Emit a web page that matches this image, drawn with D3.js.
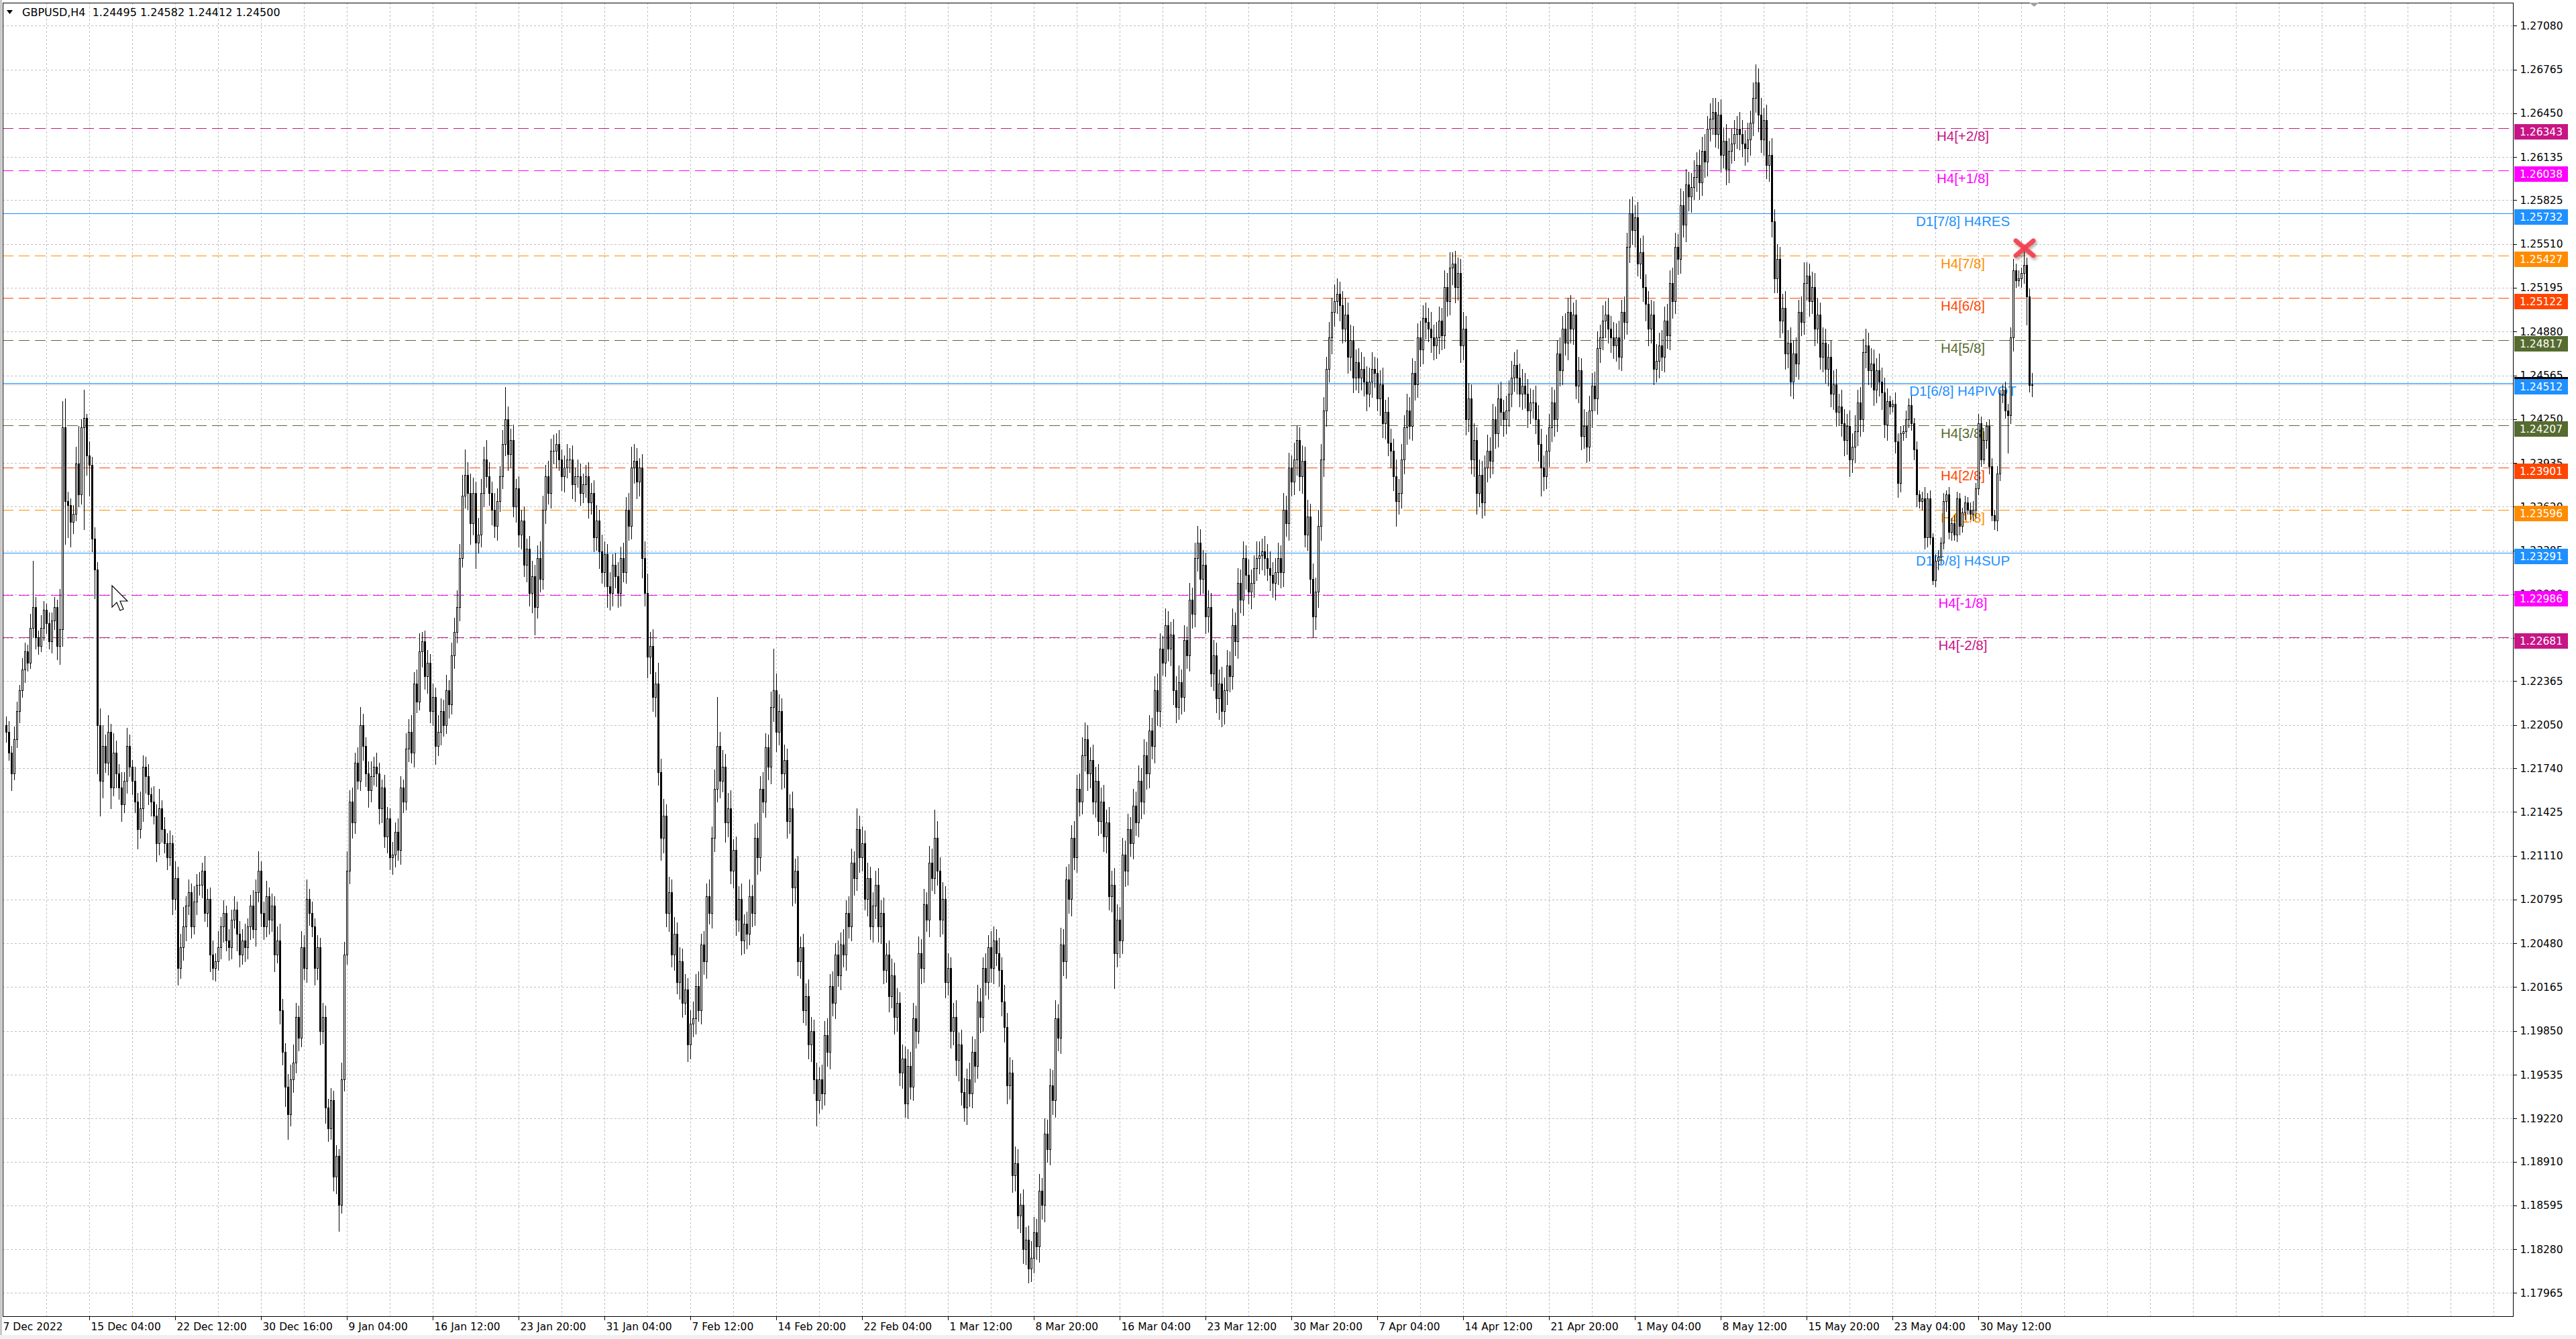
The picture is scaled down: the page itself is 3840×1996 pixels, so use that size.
<!DOCTYPE html>
<html><head><meta charset="utf-8">
<script src="https://cdn.jsdelivr.net/npm/d3@7"></script>
<style>html,body{margin:0;padding:0;background:#fff;overflow:hidden}</style>
</head><body>
<svg id="c" width="3840" height="1996" xmlns="http://www.w3.org/2000/svg"></svg>
<script>
// ---------------- DATA ----------------
const symbol = "GBPUSD,H4";
const firstOpen = 1.2205;
const closes = [
1.2200,1.2185,1.2170,1.2195,1.2215,1.2230,
1.2245,1.2258,1.2250,1.2275,1.2290,1.2268,
1.2262,1.2275,1.2288,1.2278,1.2265,1.2280,
1.2290,1.2262,1.2274,1.2419,1.2366,1.2363,
1.2351,1.2357,1.2393,1.2371,1.2419,1.2426,
1.2399,1.2392,1.2339,1.2317,1.2205,1.2165,
1.2190,1.2178,1.2200,1.2160,1.2185,1.2170,
1.2160,1.2148,1.2165,1.2190,1.2175,1.2165,
1.2150,1.2130,1.2145,1.2175,1.2168,1.2155,
1.2150,1.2140,1.2120,1.2145,1.2130,1.2120,
1.2110,1.2120,1.2080,1.2095,1.2030,1.2045,
1.2060,1.2075,1.2085,1.2060,1.2078,1.2090,
1.2090,1.2100,1.2070,1.2080,1.2040,1.2030,
1.2035,1.2045,1.2060,1.2070,1.2050,1.2045,
1.2065,1.2072,1.2055,1.2040,1.2050,1.2045,
1.2060,1.2075,1.2058,1.2085,1.2100,1.2070,
1.2060,1.2082,1.2065,1.2075,1.2040,1.2050,
1.2000,1.1970,1.1945,1.1925,1.1950,1.1962,
1.1995,1.1980,1.2045,1.2030,1.2080,1.2070,
1.2060,1.2030,1.2045,1.1985,1.1995,1.1930,
1.1915,1.1935,1.1880,1.1895,1.1860,1.1950,
1.2040,1.2100,1.2150,1.2135,1.2178,1.2165,
1.2205,1.2190,1.2170,1.2158,1.2168,1.2175,
1.2170,1.2145,1.2160,1.2125,1.2138,1.2110,
1.2112,1.2128,1.2115,1.2160,1.2150,1.2188,
1.2200,1.2185,1.2235,1.2222,1.2258,1.2265,
1.2240,1.2250,1.2215,1.2225,1.2190,1.2200,
1.2215,1.2205,1.2230,1.2220,1.2255,1.2272,
1.2290,1.2325,1.2370,1.2385,1.2372,1.2350,
1.2372,1.2336,1.2342,1.2372,1.2396,1.2384,
1.2372,1.2360,1.2348,1.2366,1.2384,1.2407,
1.2425,1.2400,1.2410,1.2362,1.2375,1.2342,
1.2352,1.2320,1.2332,1.2300,1.2312,1.2290,
1.2325,1.2310,1.2360,1.2384,1.2372,1.2402,
1.2402,1.2407,1.2396,1.2384,1.2390,1.2396,
1.2396,1.2378,1.2384,1.2384,1.2372,1.2378,
1.2384,1.2365,1.2372,1.2340,1.2352,1.2330,
1.2315,1.2328,1.2305,1.2300,1.2320,1.2312,
1.2300,1.2325,1.2315,1.2360,1.2348,1.2390,
1.2395,1.2380,1.2390,1.2325,1.2300,1.2254,
1.2262,1.2225,1.2235,1.2171,1.2124,1.2140,
1.2070,1.2085,1.2040,1.2055,1.2020,1.2035,
1.2005,1.2015,1.1975,1.1990,1.1994,1.2017,
1.2000,1.2047,1.2035,1.2082,1.2070,1.2124,
1.2159,1.2190,1.2165,1.2175,1.2135,1.2145,
1.2100,1.2115,1.2065,1.2080,1.2050,1.2062,
1.2055,1.2082,1.2070,1.2124,1.2110,1.2159,
1.2150,1.2189,1.2175,1.2218,1.2230,1.2200,
1.2215,1.2170,1.2180,1.2136,1.2145,1.2088,
1.2100,1.2035,1.2045,1.2000,1.2010,1.1975,
1.1985,1.1950,1.1935,1.1950,1.1940,1.1982,
1.1970,1.2017,1.2005,1.2040,1.2025,1.2047,
1.2040,1.2070,1.2060,1.2106,1.2095,1.2130,
1.2110,1.2120,1.2080,1.2095,1.2060,1.2075,
1.2090,1.2060,1.2070,1.2029,1.2040,1.2010,
1.2025,1.1995,1.2005,1.1955,1.1965,1.1933,
1.1960,1.1945,1.1994,1.1985,1.2041,1.2030,
1.2076,1.2065,1.2106,1.2095,1.2124,1.2100,
1.2065,1.2080,1.2020,1.2030,1.1985,1.1995,
1.1964,1.1975,1.1941,1.1930,1.1950,1.1940,
1.1970,1.1960,1.2006,1.1995,1.2030,1.2020,
1.2045,1.2030,1.2050,1.2041,1.2029,1.2006,
1.1988,1.1946,1.1955,1.1881,1.1890,1.1852,
1.1860,1.1828,1.1835,1.1814,1.1822,1.1840,
1.1830,1.1870,1.1860,1.1911,1.1900,1.1946,
1.1935,1.1994,1.1980,1.2047,1.2035,1.2094,
1.2080,1.2124,1.2110,1.2159,1.2150,1.2183,
1.2195,1.2170,1.2180,1.2150,1.2165,1.2136,
1.2150,1.2125,1.2135,1.2082,1.2090,1.2041,
1.2065,1.2050,1.2112,1.2100,1.2130,1.2120,
1.2147,1.2135,1.2165,1.2150,1.2183,1.2170,
1.2201,1.2190,1.2230,1.2215,1.2260,1.2250,
1.2277,1.2260,1.2270,1.2230,1.2218,1.2236,
1.2225,1.2266,1.2255,1.2295,1.2285,1.2325,
1.2336,1.2310,1.2320,1.2283,1.2290,1.2242,
1.2255,1.2224,1.2235,1.2215,1.2230,1.2248,
1.2240,1.2277,1.2265,1.2307,1.2295,1.2325,
1.2313,1.2301,1.2307,1.2318,1.2325,1.2327,
1.2330,1.2325,1.2318,1.2313,1.2307,1.2315,
1.2325,1.2315,1.2360,1.2350,1.2390,1.2380,
1.2396,1.2410,1.2384,1.2395,1.2342,1.2355,
1.2310,1.2283,1.2301,1.2348,1.2396,1.2431,
1.2461,1.2484,1.2502,1.2510,1.2515,1.2507,
1.2490,1.2500,1.2470,1.2482,1.2455,1.2466,
1.2455,1.2461,1.2452,1.2443,1.2452,1.2461,
1.2458,1.2440,1.2450,1.2422,1.2430,1.2408,
1.2402,1.2384,1.2366,1.2372,1.2396,1.2419,
1.2431,1.2420,1.2458,1.2450,1.2484,1.2475,
1.2498,1.2495,1.2490,1.2484,1.2478,1.2484,
1.2496,1.2485,1.2520,1.2510,1.2534,1.2537,
1.2520,1.2530,1.2478,1.2490,1.2425,1.2440,
1.2396,1.2410,1.2372,1.2385,1.2365,1.2390,
1.2402,1.2395,1.2425,1.2415,1.2440,1.2430,
1.2425,1.2431,1.2443,1.2455,1.2464,1.2455,
1.2443,1.2449,1.2443,1.2431,1.2437,1.2437,
1.2425,1.2407,1.2390,1.2384,1.2402,1.2419,
1.2437,1.2425,1.2472,1.2460,1.2490,1.2480,
1.2502,1.2490,1.2500,1.2449,1.2460,1.2413,
1.2420,1.2405,1.2431,1.2449,1.2440,1.2476,
1.2484,1.2496,1.2500,1.2490,1.2484,1.2478,
1.2484,1.2470,1.2502,1.2495,1.2549,1.2573,
1.2561,1.2570,1.2537,1.2545,1.2520,1.2508,
1.2490,1.2500,1.2461,1.2467,1.2478,1.2470,
1.2496,1.2485,1.2523,1.2510,1.2549,1.2540,
1.2579,1.2565,1.2594,1.2585,1.2592,1.2599,
1.2608,1.2595,1.2618,1.2610,1.2634,1.2641,
1.2646,1.2630,1.2644,1.2615,1.2625,1.2605,
1.2618,1.2623,1.2630,1.2634,1.2630,1.2623,
1.2620,1.2626,1.2638,1.2656,1.2667,1.2644,
1.2626,1.2640,1.2608,1.2615,1.2567,1.2526,
1.2540,1.2496,1.2505,1.2472,1.2480,1.2452,
1.2472,1.2465,1.2502,1.2495,1.2523,1.2528,
1.2510,1.2520,1.2490,1.2500,1.2470,1.2480,
1.2461,1.2470,1.2443,1.2450,1.2430,1.2434,
1.2422,1.2410,1.2420,1.2396,1.2405,1.2416,
1.2437,1.2425,1.2473,1.2478,1.2460,1.2465,
1.2446,1.2460,1.2452,1.2444,1.2421,1.2438,
1.2434,1.2436,1.2409,1.2379,1.2415,1.2416,
1.2425,1.2435,1.2422,1.2403,1.2371,1.2366,
1.2368,1.2340,1.2368,1.2340,1.2309,1.2323,
1.2326,1.2336,1.2366,1.2371,1.2344,1.2350,
1.2342,1.2368,1.2348,1.2358,1.2365,1.2360,
1.2357,1.2360,1.2375,1.2422,1.2396,1.2410,
1.2420,1.2391,1.2356,1.2352,1.2386,1.2443,
1.2446,1.2431,1.2428,1.2484,1.2532,1.2525,
1.2526,1.2530,1.2536,1.2513,1.24495,1.24500
];
const upperWickPips = [
6,8,5,9,7,4,8,6,5,10,33,7, 5,9,6,4,8,6,7,5,29,19,21,7, 5,6,12,27,6,20,3,10,6,8,5,12,
15,8,12,6,14,9,7,11,6,13,8,5, 10,6,12,8,7,9,5,11,8,14,6,9, 7,9,6,12,8,10,14,7,9,6,11,8,
9,6,11,7,8,10,6,12,7,9,5,8, 7,10,6,9,8,12,6,8,11,9,14,7, 8,11,6,9,7,10,12,8,6,9,11,13,
10,8,12,9,14,7,8,6,9,7,10,8, 6,9,7,8,5,12,9,14,8,10,7,11, 13,8,6,9,11,7,10,8,6,9,8,7,
9,7,10,8,6,11,9,12,8,10,13,7, 8,9,6,10,7,12,9,8,11,7,9,10, 12,10,15,18,9,14,11,8,12,10,9,14,
10,8,12,9,7,10,23,9,8,11,7,9, 8,10,7,9,11,8,9,12,10,8,11,9, 12,8,10,7,9,11,8,10,6,12,9,8,
8,10,7,9,11,8,12,9,7,10,8,9, 10,8,11,9,12,15,12,9,7,10,12,14, 10,12,8,15,10,12,8,11,9,12,8,10,
9,11,8,10,12,9,11,8,10,9,12,8, 14,35,10,12,9,11,13,8,10,9,11,7, 9,12,8,10,11,9,12,10,9,11,30,12,
12,9,11,8,10,12,9,11,8,10,9,12, 10,8,12,9,11,10,12,9,11,8,10,9, 11,9,12,10,8,15,10,12,9,11,8,10,
10,12,9,11,8,10,12,9,11,8,10,9, 12,10,11,9,12,10,11,9,12,10,20,12, 10,12,9,11,8,10,12,9,11,10,8,12,
11,9,12,10,8,11,9,12,10,8,11,9, 12,10,11,9,12,10,8,11,9,10,12,11, 10,12,9,11,10,12,11,13,10,12,11,9,
11,9,12,10,11,13,12,10,9,11,10,12, 10,12,9,11,10,12,11,9,12,10,11,9, 12,10,11,9,12,10,11,9,10,12,11,9,
12,10,9,11,10,12,9,11,10,12,9,11, 12,10,11,9,12,10,11,9,10,12,9,11, 10,12,9,11,10,12,9,11,10,9,12,10,
9,11,10,12,9,10,11,9,12,10,11,9, 12,10,9,11,10,12,9,11,10,12,11,10, 9,11,10,12,11,9,10,12,9,11,10,9,
10,12,9,11,10,12,9,11,10,12,9,11, 10,9,12,10,11,9,12,10,11,9,10,12, 9,11,10,12,9,11,10,9,12,10,11,8,
9,11,10,12,9,11,10,12,9,11,10,9, 12,10,11,9,10,12,9,11,10,12,9,11, 10,12,9,11,10,9,12,10,11,9,12,10,
11,9,10,12,9,11,10,12,9,11,10,9, 12,10,11,9,10,12,9,11,10,12,9,11, 10,12,9,11,10,10,12,9,11,10,12,9,
9,11,10,12,9,11,10,12,9,11,10,9, 12,10,11,9,10,12,9,11,10,12,9,11, 10,10,9,11,10,12,9,11,10,9,12,10,
10,12,9,11,13,10,12,9,11,10,12,9, 11,9,10,12,9,11,10,12,9,11,15,10, 9,11,10,12,9,11,10,9,12,10,11,9,
12,10,9,11,10,12,9,11,10,12,9,11, 10,9,12,10,11,9,4,3,8,6,5,4, 6,5,7,4,6,3,5,8,4,6,3,5,
5,4,6,3,5,4,6,5,4,3,5,4, 5,6,4,7,5,6,3,5,6,4,5,3, 4,6,5,7,8,5,6,4,10,5,6,8.2
];
const lowerWickPips = [
7,5,12,4,6,8,5,9,6,4,7,8, 6,4,9,7,5,8,6,10,13,12,31,23, 18,8,5,9,7,73,14,22,9,21,35,25,
12,7,9,15,6,10,8,12,6,9,7,10, 8,14,6,9,12,7,10,6,13,8,9,7, 9,6,11,8,12,7,9,10,6,8,5,9,
7,9,6,10,12,8,9,6,8,11,7,9, 8,6,12,9,7,10,8,9,6,12,7,10, 9,7,10,8,12,6,10,9,14,18,8,9,
7,9,6,8,10,9,7,12,8,10,9,11, 9,8,10,12,19,6,8,7,9,11,8,6, 7,10,9,12,8,6,9,11,10,8,12,9,
12,9,7,10,8,6,9,7,10,8,6,11, 9,12,8,10,13,7,9,8,6,10,7,9, 8,10,6,9,12,15,8,18,7,9,10,8,
9,11,8,10,7,9,8,12,10,7,11,9, 10,8,12,9,14,20,8,9,7,10,8,11, 9,12,8,10,11,7,9,10,12,8,9,7,
9,11,8,10,9,12,8,10,15,12,9,8, 10,9,7,8,10,9,11,12,10,14,9,15, 12,10,14,9,16,11,10,13,9,11,8,12,
10,8,12,10,9,11,8,10,9,12,8,11, 10,9,12,8,14,10,9,12,11,8,10,9, 11,8,10,9,12,10,8,11,9,12,10,14,
9,11,10,12,9,13,11,10,12,9,11,10, 12,10,18,9,11,8,10,12,9,11,8,10, 9,11,8,10,12,9,11,10,8,12,9,11,
9,11,12,10,9,11,8,12,10,9,11,10, 11,9,10,12,9,11,10,8,12,9,11,10, 12,10,11,9,12,10,11,15,9,10,12,9,
10,12,9,11,10,9,12,10,11,9,12,10, 11,13,10,12,11,9,12,10,11,10,9,11, 9,11,10,12,9,11,10,12,9,11,10,12,
10,12,9,11,10,9,11,12,10,9,11,10, 9,11,12,10,11,25,10,12,9,11,10,9, 11,9,10,12,9,11,10,9,12,10,11,9,
10,9,12,10,11,9,12,10,9,11,10,9, 9,11,10,12,11,9,12,10,15,11,9,10, 11,9,10,12,9,11,10,9,12,10,9,11,
10,12,9,11,10,12,9,11,10,9,12,10, 9,11,10,12,9,11,10,15,9,11,10,12, 11,9,12,10,9,11,10,9,12,10,11,9,
11,9,10,12,9,11,10,9,12,10,11,9, 12,10,18,9,11,10,12,9,10,11,9,12, 10,12,9,11,10,9,12,10,9,11,10,12,
11,9,12,10,11,9,10,12,15,10,11,9, 10,12,9,11,10,9,12,10,11,9,10,12, 9,11,10,12,9,11,10,12,20,10,9,11,
10,12,9,11,10,9,12,10,11,9,12,10, 9,11,10,12,9,11,10,9,12,10,11,9, 11,9,10,12,9,11,10,12,9,11,10,12,
12,10,11,9,12,10,11,9,10,12,9,11, 10,9,12,10,11,9,10,12,9,11,10,9, 11,9,10,12,9,11,10,9,12,10,11,9,
12,10,11,9,10,12,9,11,10,12,11,10, 10,12,9,11,10,10,12,9,11,10,9,12, 11,9,12,10,9,11,10,12,9,11,10,9,
9,11,10,12,9,11,10,12,9,11,10,12, 11,9,10,12,9,11,5,4,8,10,6,5, 4,6,5,7,9,5,6,8,7,5,3,4,
6,5,4,7,5,6,4,5,6,4,5,3, 4,5,6,4,5,3,6,5,4,6,7,5, 6,5,27,6,10,5,4,6,7,20,5,8.3
];
const priceTicks = [1.27080,1.26765,1.26450,1.26135,1.25825,1.25510,1.25195,1.24880,1.24565,1.24250,
 1.23935,1.23620,1.23305,1.22990,1.22675,1.22365,1.22050,1.21740,1.21425,1.21110,
 1.20795,1.20480,1.20165,1.19850,1.19535,1.19220,1.18910,1.18595,1.18280,1.17965];
const timeLabels = ["7 Dec 2022","15 Dec 04:00","22 Dec 12:00","30 Dec 16:00","9 Jan 04:00","16 Jan 12:00",
 "23 Jan 20:00","31 Jan 04:00","7 Feb 12:00","14 Feb 20:00","22 Feb 04:00","1 Mar 12:00","8 Mar 20:00",
 "16 Mar 04:00","23 Mar 12:00","30 Mar 20:00","7 Apr 04:00","14 Apr 12:00","21 Apr 20:00","1 May 04:00",
 "8 May 12:00","15 May 20:00","23 May 04:00","30 May 12:00"];
const timeLabelBars = [0,31,63,95,127,159,191,223,255,287,319,351,383,415,447,479,511,543,575,607,639,671,703,735];
const levelNames = ["H4[+2/8]","H4[+1/8]","D1[7/8] H4RES","H4[7/8]","H4[6/8]","H4[5/8]","D1[6/8] H4PIVOT",
 "H4[3/8]","H4[2/8]","H4[1/8]","D1[5/8] H4SUP","H4[-1/8]","H4[-2/8]"];
const levelPrices = [1.26343,1.26038,1.25732,1.25427,1.25122,1.24817,1.24512,1.24207,1.23901,1.23596,1.23291,1.22986,1.22681];
const bidPrice = 1.24500;
const markerBar = 752.25, markerPrice = 1.25480;

// ---------------- STYLES ----------------
const levelColors = ["#C71585","#FF00FF","#1E90FF","#FF8C00","#FF4500","#556B2F","#1E90FF",
 "#556B2F","#FF4500","#FF8C00","#1E90FF","#FF00FF","#C71585"];
const levelDashed = [true,true,false,true,true,true,false,true,true,true,false,true,true];
const axisFont = "'DejaVu Sans', Verdana, sans-serif";
const labelFont = "'Liberation Sans', Arial, sans-serif";

// ---------------- CHART ----------------
const P = {l:4, t:4, r:3746, b:1962};
const svg = d3.select("#c");
const y = d3.scaleLinear().domain([1.26343, 1.22681]).range([191, 950]);
const x = d3.scaleLinear().domain([0, 755]).range([9, 3029]);

const bars = closes.map((c,i)=>{
  const o = i ? closes[i-1] : firstOpen;
  return {i, o, c, h: Math.max(o,c) + upperWickPips[i]/1e4, l: Math.min(o,c) - lowerWickPips[i]/1e4};
});

svg.append("rect").attr("width",3840).attr("height",1996).attr("fill","#fff");
svg.append("rect").attr("x",0).attr("y",1990).attr("width",3840).attr("height",6).attr("fill","#f0f0f0");
svg.append("rect").attr("x",0).attr("y",0).attr("width",3).attr("height",1990).attr("fill","#c8c8c8");

const defs = svg.append("defs");
defs.append("clipPath").attr("id","pc").append("rect")
  .attr("x",P.l).attr("y",P.t).attr("width",P.r-P.l).attr("height",P.b-P.t);
const f = defs.append("filter").attr("id","sh").attr("x","-50%").attr("y","-50%").attr("width","200%").attr("height","200%");
f.append("feDropShadow").attr("dx",2).attr("dy",3).attr("stdDeviation",2).attr("flood-color","#000").attr("flood-opacity",0.35);

const plot = svg.append("g").attr("clip-path","url(#pc)");

// grid
const gridBars = d3.range(15, x.invert(P.r), 16);
plot.append("g").attr("shape-rendering","crispEdges").selectAll("line").data(gridBars).join("line")
  .attr("x1",d=>Math.round(x(d))+0.5).attr("x2",d=>Math.round(x(d))+0.5)
  .attr("y1",P.t).attr("y2",P.b).attr("stroke","#c0c0c0").attr("stroke-dasharray","3,3");
plot.append("g").attr("shape-rendering","crispEdges").selectAll("line").data(priceTicks).join("line")
  .attr("x1",P.l).attr("x2",P.r)
  .attr("y1",d=>Math.round(y(d))+0.5).attr("y2",d=>Math.round(y(d))+0.5)
  .attr("stroke","#c0c0c0").attr("stroke-dasharray","3,3");

// level lines + labels
const levels = levelPrices.map((p,i)=>({p, name:levelNames[i], color:levelColors[i], dashed:levelDashed[i]}));
plot.append("g").attr("shape-rendering","crispEdges").selectAll("line").data(levels).join("line")
  .attr("x1",P.l).attr("x2",P.r)
  .attr("y1",d=>Math.round(y(d.p))+0.5).attr("y2",d=>Math.round(y(d.p))+0.5)
  .attr("stroke",d=>d.color).attr("stroke-dasharray",d=>d.dashed?"16,8":null);
// bid line
plot.append("line").attr("shape-rendering","crispEdges").attr("x1",P.l).attr("x2",P.r)
  .attr("y1",Math.round(y(bidPrice))+0.5).attr("y2",Math.round(y(bidPrice))+0.5).attr("stroke","#c0c0c0");
plot.append("g").selectAll("text").data(levels).join("text")
  .attr("x",2926).attr("y",d=>Math.round(y(d.p))+18.5)
  .attr("text-anchor","middle").attr("font-family",labelFont).attr("font-size","20.5px")
  .attr("fill",d=>d.color).text(d=>d.name);

// candles
const cg = plot.append("g").attr("shape-rendering","crispEdges");
cg.selectAll("line").data(bars).join("line")
  .attr("x1",d=>Math.round(x(d.i))+0.5).attr("x2",d=>Math.round(x(d.i))+0.5)
  .attr("y1",d=>Math.round(y(d.h))).attr("y2",d=>Math.round(y(d.l))+1)
  .attr("stroke","#000");
cg.selectAll("rect.bear").data(bars.filter(b=>b.c<=b.o)).join("rect").attr("class","bear")
  .attr("x",d=>Math.round(x(d.i))-1).attr("width",3)
  .attr("y",d=>Math.round(y(d.o)))
  .attr("height",d=>Math.max(1,Math.round(y(d.c))-Math.round(y(d.o))+1))
  .attr("fill","#000");
cg.selectAll("rect.bull").data(bars.filter(b=>b.c>b.o)).join("rect").attr("class","bull")
  .attr("x",d=>Math.round(x(d.i))-0.5).attr("width",2)
  .attr("y",d=>Math.round(y(d.c))+0.5)
  .attr("height",d=>Math.max(1,Math.round(y(d.o))-Math.round(y(d.c))))
  .attr("fill","#fff").attr("stroke","#000");

// marker X
const mg = svg.append("g").attr("transform",`translate(${x(markerBar)},${y(markerPrice)})`).attr("filter","url(#sh)");
mg.append("line").attr("x1",-13).attr("y1",-11).attr("x2",13).attr("y2",11)
  .attr("stroke","#f2404e").attr("stroke-width",7).attr("stroke-linecap","round").attr("opacity",0.92);
mg.append("line").attr("x1",-13).attr("y1",11).attr("x2",13).attr("y2",-11)
  .attr("stroke","#f2404e").attr("stroke-width",7).attr("stroke-linecap","round").attr("opacity",0.92);

// border
svg.append("rect").attr("shape-rendering","crispEdges").attr("x",P.l+0.5).attr("y",P.t+0.5)
  .attr("width",P.r-P.l).attr("height",P.b-P.t).attr("fill","none").attr("stroke","#000");

// right axis
const ya = svg.append("g").attr("transform",`translate(${P.r+0.5},0)`)
  .call(d3.axisRight(y).tickValues(priceTicks).tickFormat(d3.format(".5f")).tickSize(5).tickPadding(5));
ya.select(".domain").remove();
ya.selectAll("line").attr("stroke","#000").attr("shape-rendering","crispEdges");
ya.selectAll("text").attr("font-family",axisFont).attr("font-size","15.5px").attr("fill","#000");

// bottom axis
const xa = svg.append("g").attr("transform",`translate(0,${P.b+0.5})`)
  .call(d3.axisBottom(x).tickValues(timeLabelBars).tickFormat((d,i)=>timeLabels[i]).tickSize(5).tickPadding(4));
xa.select(".domain").remove();
xa.selectAll("line").attr("stroke","#000").attr("shape-rendering","crispEdges");
xa.selectAll("text").attr("font-family",axisFont).attr("font-size","15.5px").attr("fill","#000")
  .attr("text-anchor","start").attr("x",(d,i)=>i===0?-5:2);
xa.selectAll(".tick").filter((d,i)=>i===0).select("line").remove();

// price tags (box sits slightly below its line, as in the terminal)
const tags = svg.append("g");
tags.append("rect").attr("x",P.r+2).attr("width",80).attr("y",Math.round(y(levelPrices[6]))-9).attr("height",23).attr("fill","#000");
tags.selectAll("rect.tag").data(levels).join("rect").attr("class","tag")
  .attr("x",P.r+2).attr("width",80).attr("y",d=>Math.round(y(d.p))-6).attr("height",23)
  .attr("fill",d=>d.color);
tags.selectAll("text").data(levels).join("text")
  .attr("x",P.r+10).attr("y",d=>Math.round(y(d.p))+5.5).attr("dy","0.36em")
  .attr("font-family",axisFont).attr("font-size","15.5px").attr("fill","#fff")
  .text(d=>d.p.toFixed(5));

// header
const last = bars[bars.length-1];
svg.append("path").attr("d","M10,15 L19,15 L14.5,21 Z").attr("fill","#000");
svg.append("text").attr("x",33).attr("y",24).attr("font-family",axisFont).attr("font-size","16px")
  .style("white-space","pre").attr("fill","#000")
  .text(`${symbol}  ${last.o.toFixed(5)} ${last.h.toFixed(5)} ${last.l.toFixed(5)} ${last.c.toFixed(5)}`);

// chart shift marker
svg.append("path").attr("d",`M${x(755.8)-7},4 L${x(755.8)+7},4 L${x(755.8)},10 Z`).attr("fill","#a0a0a0");

// mouse cursor
svg.append("path").attr("transform","translate(167,873)")
  .attr("d","M0,0 L0,32 L7,25 L12,37 L17,35 L12,23 L23,23 Z")
  .attr("fill","#fff").attr("stroke","#000").attr("stroke-width",1.2);
</script>
</body></html>
